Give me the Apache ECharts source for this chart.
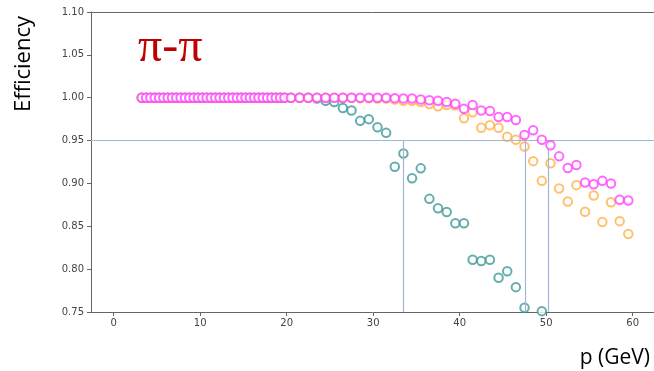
<!DOCTYPE html>
<html>
<head>
<meta charset="utf-8">
<script src="https://cdn.jsdelivr.net/npm/echarts@6/dist/echarts.min.js"></script>
<style>html,body{margin:0;padding:0;background:#fff;}#c{width:654px;height:371px;}</style>
</head>
<body>
<div id="c"></div>
<script>
// momentum bin centres (GeV)
var p = [3.25,3.75,4.25,4.75,5.25,5.75,6.25,6.75,7.25,7.75,8.25,8.75,9.25,9.75,10.25,10.75,11.25,11.75,12.25,12.75,13.25,13.75,14.25,14.75,15.25,15.75,16.25,16.75,17.25,17.75,18.25,18.75,19.25,19.75,
  20.5,21.5,22.5,23.5,24.5,25.5,26.5,27.5,28.5,29.5,30.5,31.5,32.5,33.5,34.5,35.5,36.5,37.5,38.5,39.5,40.5,41.5,42.5,43.5,44.5,45.5,46.5,47.5,48.5,49.5,50.5,51.5,52.5,53.5,54.5,55.5,56.5,57.5,58.5,59.5];

var tealEff = [1,1,1,1,1,1,1,1,1,1,1,1,1,1,1,1,1,1,1,1,1,1,1,1,1,1,1,1,1,1,1,1,1,1,
  1.0,1.0,1.0,0.999,0.9965,0.995,0.988,0.985,0.973,0.975,0.9655,0.959,0.9195,0.935,0.906,0.9176,0.882,0.871,0.8667,0.8535,0.8535,0.811,0.8095,0.811,0.790,0.7975,0.779,0.755,null,0.751,null,null,null,null,null,null,null,null,null,null];

var orangeEff = [1,1,1,1,1,1,1,1,1,1,1,1,1,1,1,1,1,1,1,1,1,1,1,1,1,1,1,1,1,1,1,1,1,1,
  1.0,1.0,1.0,1.0,1.0,1.0,1.0,1.0,0.9995,0.9995,0.999,0.999,0.998,0.9965,0.9965,0.995,0.9927,0.990,0.9915,0.991,0.976,0.983,0.965,0.968,0.965,0.9545,0.951,0.943,0.926,0.903,0.9235,0.894,0.879,0.898,0.867,0.886,0.855,0.878,0.856,0.841];

var magentaEff = [1,1,1,1,1,1,1,1,1,1,1,1,1,1,1,1,1,1,1,1,1,1,1,1,1,1,1,1,1,1,1,1,1,1,
  1.0,1.0,1.0,1.0,1.0,1.0,1.0,1.0,1.0,1.0,1.0,1.0,0.9995,0.999,0.999,0.998,0.997,0.9965,0.995,0.993,0.987,0.9915,0.985,0.9845,0.9775,0.9775,0.974,0.9565,0.962,0.951,0.9445,0.9316,0.918,0.9215,0.901,0.899,0.903,0.900,0.881,0.880];

var xTicks = [0,10,20,30,40,50,60];
var effLine = 0.95;
var crossP = [33.45, 47.6, 50.25];

function pts(vals){
  var out = [];
  for (var i = 0; i < p.length; i++) { if (vals[i] !== null) out.push([p[i], vals[i]]); }
  return out;
}

var chart = echarts.init(document.getElementById('c'), null, {renderer:'canvas'});
var vlines = crossP.map(function(x){ return [{coord:[x, effLine]}, {coord:[x, 0.75]}]; });
var tickFont = {fontFamily:'DejaVu Sans', fontSize:10, color:'#444'};
function sc(name, vals, color, z){
  return {
    type:'scatter', name:name, data:pts(vals), symbol:'emptyCircle', symbolSize:8.5, z:z,
    itemStyle:{color:color, borderColor:color, borderWidth:1.6}, silent:true, animation:false
  };
}
var teal = sc('teal', tealEff, '#3f9a9a', 3);
teal.markLine = {
  silent:true, symbol:'none', animation:false,
  lineStyle:{color:'#a3b5d6', width:1.2, type:'solid'},
  label:{show:false},
  data:[{yAxis:effLine}].concat(vlines)
};
var xMin = -2.62, xMax = 62.47;
chart.setOption({
  animation:false,
  grid:{left:91, right:0, top:12, bottom:59, show:false},
  xAxis:[{type:'value', min:xMin, max:xMax,
    axisLine:{show:true, onZero:false, lineStyle:{color:'#666'}},
    axisTick:{show:true, length:4, customValues:xTicks, lineStyle:{color:'#666'}},
    axisLabel:Object.assign({customValues:xTicks, margin:6}, tickFont),
    splitLine:{show:false}},
   {type:'value', position:'top', min:xMin, max:xMax,
    axisLine:{show:true, onZero:false, lineStyle:{color:'#666'}},
    axisTick:{show:false}, axisLabel:{show:false}, splitLine:{show:false}}],
  yAxis:{type:'value', min:0.75, max:1.10, interval:0.05,
    axisLine:{show:true, onZero:false, lineStyle:{color:'#666'}},
    axisTick:{show:true, length:4, lineStyle:{color:'#666'}},
    axisLabel:Object.assign({margin:7, formatter:function(v){return v.toFixed(2);}}, tickFont),
    splitLine:{show:false}},
  graphic:[
    {type:'text', left:138, top:24, style:{text:'π-π', font:'48px "Liberation Serif"', fill:'#c00000'}},
    {type:'text', left:13, top:16, rotation:Math.PI/2, style:{text:'Efficiency', font:'22px "Open Sans"', fill:'#000'}},
    {type:'text', right:4, bottom:2, style:{text:'p (GeV)', font:'21px "Open Sans"', fill:'#000'}}
  ],
  series:[teal, sc('orange', orangeEff, '#ffb24a', 4), sc('magenta', magentaEff, '#ff44ff', 5)]
});
</script>
</body>
</html>
